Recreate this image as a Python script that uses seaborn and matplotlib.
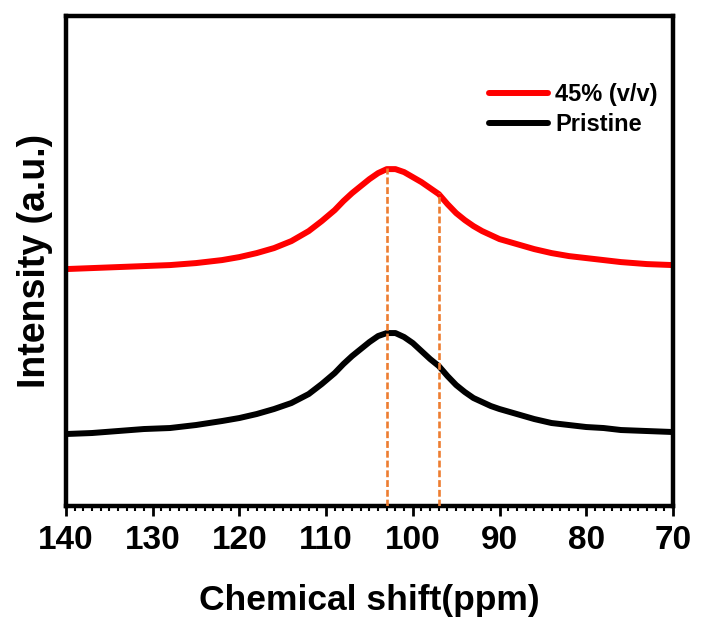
import matplotlib
matplotlib.use("Agg")
import matplotlib.pyplot as plt
from matplotlib.ticker import MultipleLocator
import seaborn as sns
import pandas as pd

# Chemical shift (ppm) sample positions
shift = [140, 137, 134, 131, 128, 125, 122, 120, 118, 116, 114, 112, 110.5, 109,
         108, 107, 106, 105, 104, 103, 102, 101, 100, 99, 98, 97, 96, 95, 94,
         93, 92, 91, 90, 88, 86, 84, 82, 80, 78, 76, 73, 70]
# Intensities (a.u.)
treated = [237, 238, 239, 240, 241, 243, 246, 249, 253, 258, 265, 275, 285, 296,
           305, 313, 320, 327, 333, 337, 337, 334, 329, 324, 318, 312, 302, 293, 286,
           280, 275, 271, 267, 262, 257, 253, 250, 248, 246, 244, 242, 241]
pristine = [72, 73, 75, 77, 78, 81, 85, 88, 92, 97, 103, 112, 122, 133,
            142, 150, 157, 164, 170, 173, 173, 169, 163, 155, 147, 140, 130, 121, 114,
            108, 104, 100, 97, 92, 87, 83, 81, 79, 78, 76, 75, 74]
labels = ["45% (v/v)", "Pristine"]
marker_shifts = [103.0, 97.0]
marker_tops = [338, 313]
x_ticks = [140, 130, 120, 110, 100, 90, 80, 70]

sns.set_style("white")
plt.rcParams["font.family"] = ["Liberation Sans", "DejaVu Sans"]
plt.rcParams["text.color"] = "black"
plt.rcParams["axes.labelcolor"] = "black"
plt.rcParams["xtick.color"] = "black"

fig = plt.figure(figsize=(7.01, 6.22), dpi=100)
ax = fig.add_axes([0.094, 0.1865, 0.866, 0.7875])

df = pd.concat([
    pd.DataFrame({"shift": shift, "intensity": treated, "sample": labels[0]}),
    pd.DataFrame({"shift": shift, "intensity": pristine, "sample": labels[1]}),
])
sns.lineplot(data=df, x="shift", y="intensity", hue="sample",
             palette={labels[0]: "#FF0000", labels[1]: "#000000"},
             linewidth=4.3, ax=ax, zorder=2)
for ln in ax.get_lines():
    ln.set_solid_joinstyle("round")
    ln.set_solid_capstyle("round")

ax.vlines(marker_shifts, 0, marker_tops, colors="#ED7D31", linestyles=(0, (2.6, 1.1)),
          linewidth=1.9, zorder=3)

ax.set_xlim(140, 70)
ax.set_ylim(0, 490)
ax.set_xticks(x_ticks)
ax.xaxis.set_minor_locator(MultipleLocator(1))
ax.set_yticks([])
ax.tick_params(axis="x", which="major", direction="out", length=7.5, width=2,
               bottom=True, pad=6, labelsize=24, labelcolor="black")
ax.tick_params(axis="x", which="minor", direction="out", length=3.8, width=1.5,
               bottom=True)
for lab in ax.get_xticklabels():
    lab.set_fontweight("bold")

for sp in ax.spines.values():
    sp.set_linewidth(3.2)
    sp.set_color("black")

ax.set_xlabel("Chemical shift(ppm)", fontsize=25.5, fontweight="bold", labelpad=20)
ax.set_ylabel("Intensity (a.u.)", fontsize=27, fontweight="bold", labelpad=9)

leg = ax.legend(loc="upper right", bbox_to_anchor=(0.975, 0.863), frameon=False,
                prop={"weight": "bold", "size": 17}, handlelength=2.5,
                handletextpad=0.3, labelspacing=0.3, borderaxespad=0, borderpad=0)
for h in leg.get_lines():
    h.set_linewidth(4.3)
for t in leg.get_texts():
    t.set_color("black")

fig.savefig("out.png", dpi=100)
